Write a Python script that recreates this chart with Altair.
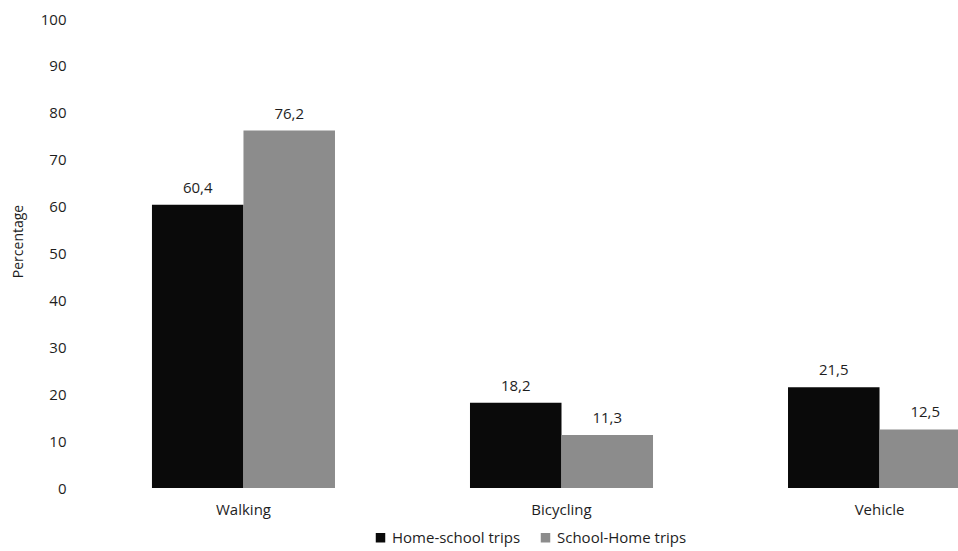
import altair as alt
import pandas as pd

modes = ["Walking", "Bicycling", "Vehicle"]
series = ["Home-school trips", "School-Home trips"]
home_school = [60.4, 18.2, 21.5]
school_home = [76.2, 11.3, 12.5]
y_ticks = [0, 10, 20, 30, 40, 50, 60, 70, 80, 90, 100]
colors = ["#0a0a0a", "#8c8c8c"]

rows = []
for i, m in enumerate(modes):
    rows.append({"mode": m, "trip": series[0], "value": home_school[i]})
    rows.append({"mode": m, "trip": series[1], "value": school_home[i]})
df = pd.DataFrame(rows)

FONT = "Open Sans"
TXT = "#1e1e1e"
FS = 15

x_enc = alt.X(
    "mode:N",
    sort=modes,
    scale=alt.Scale(range=[0, 973], paddingInner=0.4245, paddingOuter=0.242),
    axis=alt.Axis(title=None, labelAngle=0, domain=False, ticks=False,
                  labelPadding=14, labelFontSize=FS, labelColor=TXT, labelFont=FONT),
)
xoff = alt.XOffset("trip:N", sort=series, scale=alt.Scale(paddingInner=0, paddingOuter=0))
y_enc = alt.Y(
    "value:Q",
    scale=alt.Scale(domain=[0, 100], nice=False),
    axis=alt.Axis(values=y_ticks, grid=False, domain=False, ticks=False, labelPadding=9,
                  labelFontSize=FS, labelColor=TXT, labelFont=FONT,
                  title="Percentage", titleFontSize=14, titleFontWeight="normal",
                  titleColor=TXT, titleFont=FONT, titleAngle=-90,
                  titleX=-57, titleY=222, titleAlign="center", titleBaseline="middle"),
)

bars = alt.Chart(df).mark_bar(clip=True).encode(
    x=x_enc,
    xOffset=xoff,
    y=y_enc,
    color=alt.Color(
        "trip:N", sort=series,
        scale=alt.Scale(domain=series, range=colors),
        legend=alt.Legend(title=None, orient="none", direction="horizontal",
                          legendX=298, legendY=511,
                          symbolType="square", symbolSize=90, symbolStrokeWidth=0,
                          labelFontSize=FS, labelColor=TXT, labelFont=FONT,
                          columnPadding=17, labelOffset=4, symbolOpacity=1),
    ),
)

labels = alt.Chart(df).transform_calculate(
    lab="replace(format(datum.value, '.1f'), '.', ',')"
).mark_text(dy=-17, fontSize=FS, color=TXT, font=FONT, clip=True).encode(
    x=alt.X("mode:N", sort=modes),
    xOffset=alt.XOffset("trip:N", sort=series),
    y="value:Q",
    text="lab:N",
)

chart = alt.layer(bars, labels).properties(
    width=883, height=469,
    autosize=alt.AutoSizeParams(type="none"),
    padding={"left": 75, "top": 19, "right": 0, "bottom": 63},
    background="white",
).configure_view(stroke=None)

chart.save("out.html", embed_options={"renderer": "svg", "actions": False})
